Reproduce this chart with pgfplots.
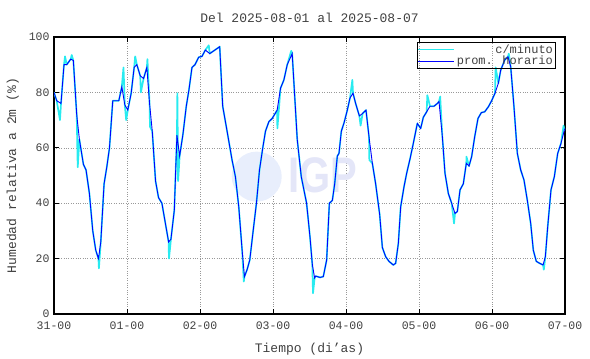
\documentclass[border=0pt]{standalone}
\usepackage{pgfplots}
\pgfplotsset{compat=1.18}
\usepackage{fontspec}
\setmainfont{Liberation Mono}
\newfontfamily\wmfont{Liberation Sans}
\definecolor{txt}{RGB}{64,64,64}
\definecolor{wmtext}{RGB}{228,230,248}
\definecolor{wmcirc}{RGB}{232,238,252}
\definecolor{cminute}{RGB}{40,235,240}
\begin{document}
\begin{tikzpicture}
\begin{axis}[name=ax,
  scale only axis, width=511bp, height=277bp,
  xmin=0, xmax=7, ymin=0, ymax=100,
  xtick={0,1,2,3,4,5,6,7},
  xticklabels={31-00,01-00,02-00,03-00,04-00,05-00,06-00,07-00},
  ytick={0,20,40,60,80,100},
  grid=major, grid style={dotted, gray!80, line width=0.5pt},
  axis line style={black, line width=1.2pt},
  tick style={black, line width=1pt},
  major tick length=5bp, tick align=inside,
  /pgf/number format/assume math mode=true,
  ticklabel style={font=\fontsize{11.5bp}{12bp}\selectfont, text=txt},
  xticklabel style={yshift=-4bp},
  yticklabel style={xshift=-1bp},
  title={Del 2025-08-01 al 2025-08-07},
  title style={font=\fontsize{13bp}{14bp}\selectfont, text=txt, yshift=5bp},
  xlabel={Tiempo (di'as)},
  xlabel style={font=\fontsize{13bp}{14bp}\selectfont, text=txt, yshift=-7bp},
  ylabel={Humedad relativa a 2m (\%)},
  ylabel style={font=\fontsize{13bp}{14bp}\selectfont, text=txt, yshift=3bp},
  legend style={at={(0.982,0.982)}, anchor=north east, draw=black, line width=0.8pt,
    fill=none, font=\fontsize{12bp}{12bp}\selectfont, text=txt,
    inner sep=0.5bp, row sep=-3bp},
  legend cell align=right,
  legend image code/.code={\draw[#1, line width=1pt] (0bp,0bp) -- (36bp,0bp);},
]
\fill[wmcirc] (axis cs:2.777,49.6) circle[radius=25bp];
\node[text=wmtext, xscale=0.8, font=\wmfont\bfseries\fontsize{50bp}{50bp}\selectfont] at (axis cs:3.685,50.2) {IGP};

\addplot[cminute, line width=1.7pt, line join=round] coordinates {
(0.000,80) (0.037,77) (0.082,70) (0.096,76) (0.137,90) (0.151,93) (0.174,90) (0.229,92) (0.243,93.5) (0.265,91.5)
(0.311,72) (0.325,53) (0.348,63) (0.403,54) (0.439,52) (0.485,43.5) (0.531,30) (0.572,23) (0.609,20) (0.615,16.5)
(0.641,26) (0.686,47) (0.723,53) (0.760,60) (0.805,77) (0.842,77) (0.888,77) (0.929,82) (0.952,89) (0.970,75.5)
(0.989,70) (1.011,73.6) (1.057,79.7) (1.098,89) (1.112,93) (1.135,90) (1.181,86) (1.190,80) (1.227,85) (1.272,89)
(1.280,92) (1.309,76) (1.315,67.6) (1.346,66) (1.391,48) (1.432,42) (1.478,40) (1.524,33) (1.570,26) (1.575,20)
(1.602,27) (1.648,37.5) (1.684,64.6) (1.690,79.7) (1.700,48) (1.721,57) (1.767,65) (1.812,75) (1.849,81) (1.890,89)
(1.931,90) (1.982,92.7) (2.027,93) (2.073,95.3) (2.120,97) (2.133,94) (2.188,95) (2.270,96.5) (2.311,75) (2.371,66)
(2.439,55.6) (2.485,49.6) (2.531,38.7) (2.577,23) (2.600,11.7) (2.609,13.5) (2.645,16) (2.682,19.5) (2.728,30) (2.773,40)
(2.815,52) (2.860,60) (2.897,66) (2.943,69.4) (2.989,70.6) (3.057,73.6) (3.060,67) (3.103,81.5) (3.149,84.5) (3.195,90)
(3.250,95) (3.263,94) (3.332,63) (3.387,49.6) (3.460,40) (3.506,28) (3.538,18) (3.548,7.5) (3.570,13) (3.584,13.7)
(3.644,13.2) (3.689,13.5) (3.735,19.5) (3.772,40) (3.813,41) (3.845,47) (3.881,57) (3.904,58) (3.936,66) (3.973,69)
(4.018,73.6) (4.055,78) (4.087,84.5) (4.096,79.7) (4.132,76) (4.183,71.5) (4.200,68) (4.228,72.4) (4.274,73.6) (4.315,64)
(4.320,55.6) (4.361,54.4) (4.406,47) (4.461,36) (4.498,24) (4.543,20.7) (4.589,19) (4.648,17.7) (4.680,18.3) (4.717,25.5)
(4.749,38.7) (4.795,46) (4.831,50.8) (4.877,56) (4.922,61.6) (4.977,68.8) (5.023,67) (5.059,71) (5.105,73) (5.114,79)
(5.151,75) (5.205,75) (5.251,76) (5.274,76.7) (5.290,78.5) (5.320,64) (5.356,50.8) (5.402,43.5) (5.447,40) (5.480,32.7)
(5.493,36.3) (5.525,37) (5.562,44.8) (5.607,47) (5.648,54.4) (5.650,56.8) (5.685,53.4) (5.721,56.8) (5.763,64) (5.808,70.6)
(5.854,72.7) (5.900,73) (5.950,74.8) (5.995,77) (6.041,79.7) (6.050,89) (6.087,83.3) (6.119,88) (6.174,91.7) (6.219,92.9)
(6.230,94) (6.256,89.3) (6.301,74.8) (6.347,58) (6.393,52) (6.438,48.4) (6.484,41) (6.530,32.7) (6.566,23) (6.607,19)
(6.653,18.3) (6.699,17.7) (6.710,16) (6.731,20.7) (6.763,31.5) (6.808,44.8) (6.854,49.6) (6.900,58) (6.945,61.6) (6.980,68)
(6.991,66.4) (7.000,67)
};
\addlegendentry{c/minuto}

\addplot[blue, line width=0.9pt] coordinates {
(0.000,80) (0.037,77) (0.096,76) (0.137,90) (0.174,90) (0.229,92) (0.265,91.5) (0.311,72) (0.348,63) (0.403,54)
(0.439,52) (0.485,43.5) (0.531,30) (0.572,23) (0.609,20) (0.641,26) (0.686,47) (0.723,53) (0.760,60) (0.805,77)
(0.842,77) (0.888,77) (0.929,82) (0.970,75.5) (1.011,73.6) (1.057,79.7) (1.098,89) (1.135,90) (1.181,86) (1.227,85)
(1.272,89) (1.309,76) (1.346,66) (1.391,48) (1.432,42) (1.478,40) (1.524,33) (1.570,26) (1.602,27) (1.648,37.5)
(1.684,64.6) (1.721,57) (1.767,65) (1.812,75) (1.849,81) (1.890,89) (1.931,90) (1.982,92.7) (2.027,93) (2.073,95.3)
(2.133,94) (2.188,95) (2.270,96.5) (2.311,75) (2.371,66) (2.439,55.6) (2.485,49.6) (2.531,38.7) (2.577,23) (2.609,13.5)
(2.645,16) (2.682,19.5) (2.728,30) (2.773,40) (2.815,52) (2.860,60) (2.897,66) (2.943,69.4) (2.989,70.6) (3.057,73.6)
(3.103,81.5) (3.149,84.5) (3.195,90) (3.263,94) (3.332,63) (3.387,49.6) (3.460,40) (3.506,28) (3.538,18) (3.570,13)
(3.584,13.7) (3.644,13.2) (3.689,13.5) (3.735,19.5) (3.772,40) (3.813,41) (3.845,47) (3.881,57) (3.904,58) (3.936,66)
(3.973,69) (4.018,73.6) (4.055,78) (4.096,79.7) (4.132,76) (4.183,71.5) (4.228,72.4) (4.274,73.6) (4.315,64) (4.361,54.4)
(4.406,47) (4.461,36) (4.498,24) (4.543,20.7) (4.589,19) (4.648,17.7) (4.680,18.3) (4.717,25.5) (4.749,38.7) (4.795,46)
(4.831,50.8) (4.877,56) (4.922,61.6) (4.977,68.8) (5.023,67) (5.059,71) (5.105,73) (5.151,75) (5.205,75) (5.251,76)
(5.274,76.7) (5.320,64) (5.356,50.8) (5.402,43.5) (5.447,40) (5.493,36.3) (5.525,37) (5.562,44.8) (5.607,47) (5.648,54.4)
(5.685,53.4) (5.721,56.8) (5.763,64) (5.808,70.6) (5.854,72.7) (5.900,73) (5.950,74.8) (5.995,77) (6.041,79.7) (6.087,83.3)
(6.119,88) (6.174,91.7) (6.219,92.9) (6.256,89.3) (6.301,74.8) (6.347,58) (6.393,52) (6.438,48.4) (6.484,41) (6.530,32.7)
(6.566,23) (6.607,19) (6.653,18.3) (6.699,17.7) (6.731,20.7) (6.763,31.5) (6.808,44.8) (6.854,49.6) (6.900,58) (6.945,61.6)
(6.991,66.4) (7.000,67)
};
\addlegendentry{prom. horario}
\end{axis}
\path ([xshift=-54bp,yshift=-40bp]ax.south west) rectangle ([xshift=25bp,yshift=37bp]ax.north east);
\end{tikzpicture}
\end{document}
